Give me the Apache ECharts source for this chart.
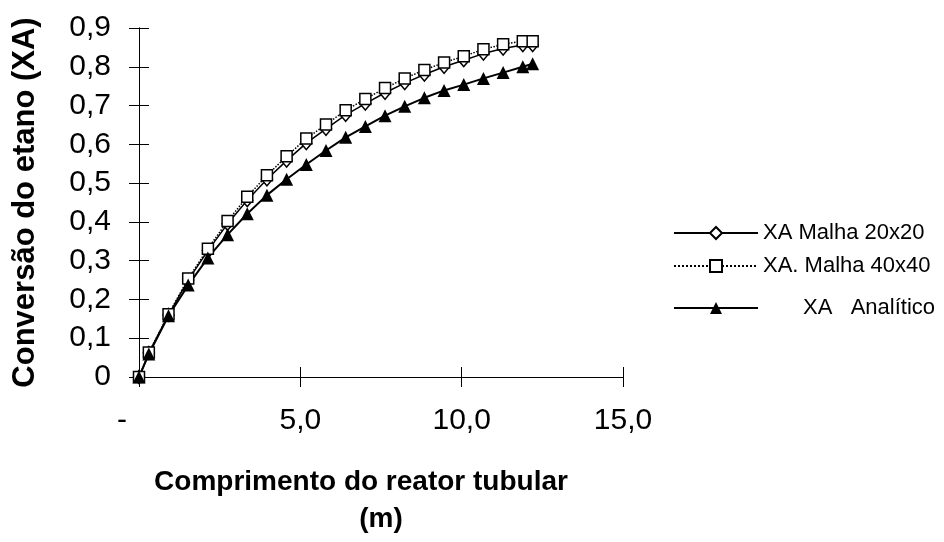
<!DOCTYPE html>
<html>
<head>
<meta charset="utf-8">
<script src="https://cdn.jsdelivr.net/npm/echarts@6/dist/echarts.min.js"></script>
<style>
html, body { margin: 0; padding: 0; background: #fff; }
#main { width: 944px; height: 542px; }
</style>
</head>
<body>
<div id="main"></div>
<script>
// comprimento do reator (m) - pontos da malha
var comprimento = [0, 0.305, 0.915, 1.525, 2.135, 2.745, 3.355, 3.965, 4.575, 5.185, 5.795,
  6.405, 7.015, 7.625, 8.235, 8.845, 9.455, 10.065, 10.675, 11.285, 11.895, 12.2]
// conversao XA
var xaMalha20 = [0, 0.062, 0.160, 0.250, 0.326, 0.395, 0.456, 0.510, 0.558, 0.603, 0.640,
  0.676, 0.705, 0.733, 0.758, 0.780, 0.800, 0.817, 0.834, 0.847, 0.856, 0.856]
var xaMalha40 = [0, 0.063, 0.162, 0.254, 0.331, 0.402, 0.465, 0.520, 0.569, 0.615, 0.651,
  0.688, 0.717, 0.745, 0.770, 0.792, 0.811, 0.827, 0.845, 0.858, 0.866, 0.866]
var xaAnalitico = [0, 0.059, 0.158, 0.237, 0.307, 0.367, 0.421, 0.469, 0.510, 0.548, 0.584,
  0.618, 0.646, 0.674, 0.698, 0.720, 0.739, 0.754, 0.770, 0.785, 0.800, 0.808]

var xTickLabels = ['-', '5,0', '10,0', '15,0']
var yTickLabels = ['0', '0,1', '0,2', '0,3', '0,4', '0,5', '0,6', '0,7', '0,8', '0,9']
var nomes = ['XA Malha 20x20', 'XA. Malha 40x40', 'XA   Analítico']

var fonte = "'Liberation Sans', Arial, sans-serif"

function pares (ys) {
  return comprimento.map(function (x, i) { return [x, ys[i]] })
}

var myChart = echarts.init(document.getElementById('main'))

var eixoX = {
  type: 'value', min: 0, max: 15, interval: 5,
  position: 'bottom',
  splitLine: { show: false }
}
var eixoY = {
  type: 'value', min: 0, max: 0.9, interval: 0.1,
  position: 'left',
  splitLine: { show: false }
}

var legenda = function (nome, top, pad) {
  return {
    data: [nome],
    left: 673,
    top: top,
    padding: 0,
    itemWidth: 84,
    itemHeight: 15,
    itemTextGap: 5,
    textStyle: { fontSize: 22, color: '#000', fontFamily: fonte, padding: [0, 0, 0, pad] }
  }
}

var option = {
  animation: false,
  backgroundColor: '#fff',
  textStyle: { fontFamily: fonte, color: '#000' },
  grid: { left: 139, right: 321, top: 28, bottom: 165 },
  legend: [
    legenda(nomes[0], 222, 0),
    legenda(nomes[1], 255, 0),
    legenda(nomes[2], 297, 40)
  ],
  xAxis: [
    Object.assign({}, eixoX, {
      axisLine: { lineStyle: { color: '#000', width: 1 } },
      axisTick: { length: 10, lineStyle: { color: '#000' } },
      axisLabel: {
        margin: 29,
        fontSize: 30,
        color: '#000',
        fontFamily: fonte,
        formatter: function (v) {
          if (v === 0) return '{z|-}'
          return xTickLabels[Math.round(v / 5)]
        },
        rich: { z: { fontSize: 30, fontFamily: fonte, color: '#000', padding: [0, 34, 0, 0] } }
      },
      name: '{a|Comprimento do reator tubular}\n{b|(m)}',
      nameLocation: 'middle',
      nameGap: 87,
      nameTextStyle: {
        rich: {
          a: { fontSize: 28, fontWeight: 'bold', fontFamily: fonte, color: '#000', lineHeight: 37, padding: [0, 40, 0, 0] },
          b: { fontSize: 28, fontWeight: 'bold', fontFamily: fonte, color: '#000', lineHeight: 37 }
        }
      }
    }),
    Object.assign({}, eixoX, {
      axisLine: { show: true, lineStyle: { color: '#000', width: 1 } },
      axisTick: { show: true, inside: true, length: 10, lineStyle: { color: '#000' } },
      axisLabel: { show: false }
    })
  ],
  yAxis: [
    Object.assign({}, eixoY, {
      axisLine: { show: true, lineStyle: { color: '#000', width: 1 } },
      axisTick: { show: true, length: 10, lineStyle: { color: '#000' } },
      axisLabel: {
        margin: 28,
        fontSize: 30,
        color: '#000',
        fontFamily: fonte,
        formatter: function (v) { return yTickLabels[Math.round(v * 10)] }
      },
      name: 'Conversão do etano (XA)',
      nameLocation: 'middle',
      nameGap: 98,
      nameTextStyle: { fontSize: 31, fontWeight: 'bold', fontFamily: fonte, color: '#000' }
    }),
    Object.assign({}, eixoY, {
      axisLine: { show: true, lineStyle: { color: '#000', width: 1 } },
      axisTick: { show: true, inside: true, length: 10, lineStyle: { color: '#000' } },
      axisLabel: { show: false }
    })
  ],
  series: [
    {
      name: nomes[0],
      type: 'line',
      data: pares(xaMalha20),
      symbol: 'diamond',
      symbolSize: [11, 13],
      showAllSymbol: true,
      lineStyle: { color: '#000', width: 1.5 },
      itemStyle: { color: '#fff', borderColor: '#000', borderWidth: 1.5 }
    },
    {
      name: nomes[1],
      type: 'line',
      data: pares(xaMalha40),
      symbol: 'rect',
      symbolSize: 11,
      showAllSymbol: true,
      lineStyle: { color: '#000', width: 1.5, type: 'dotted' },
      itemStyle: { color: '#fff', borderColor: '#000', borderWidth: 1.5 }
    },
    {
      name: nomes[2],
      type: 'line',
      data: pares(xaAnalitico),
      symbol: 'triangle',
      symbolSize: 13,
      showAllSymbol: true,
      lineStyle: { color: '#000', width: 2 },
      itemStyle: { color: '#000' }
    }
  ]
}

myChart.setOption(option)
</script>
</body>
</html>
